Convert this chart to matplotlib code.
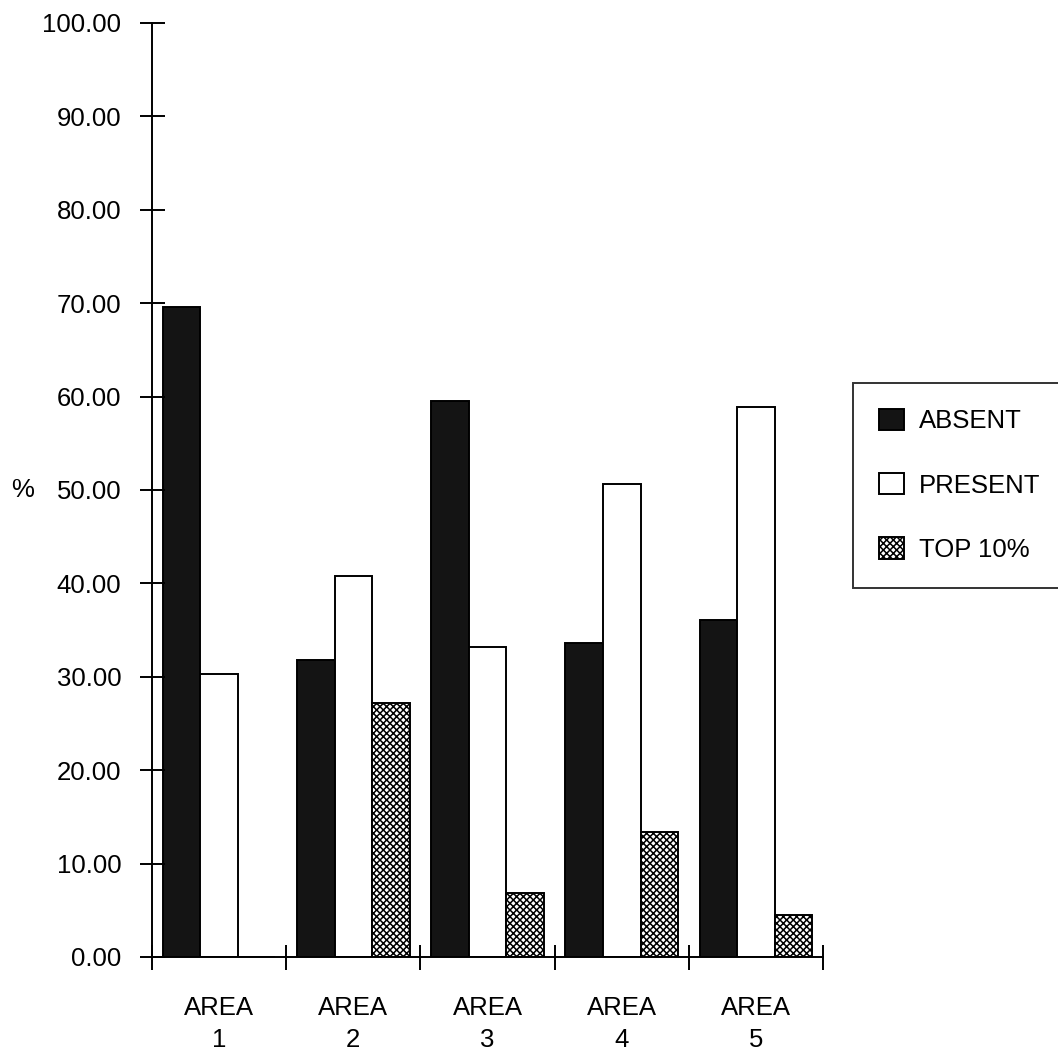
import numpy as np
import matplotlib.pyplot as plt

plt.rcParams['font.family'] = ['Liberation Sans', 'DejaVu Sans']
plt.rcParams['hatch.linewidth'] = 1.1

areas = ['AREA\n1', 'AREA\n2', 'AREA\n3', 'AREA\n4', 'AREA\n5']
absent = [69.6, 31.8, 59.5, 33.6, 36.1]
present = [30.3, 40.8, 33.2, 50.6, 58.9]
top10 = [0.0, 27.2, 6.9, 13.4, 4.5]
yticks = [0, 10, 20, 30, 40, 50, 60, 70, 80, 90, 100]

FS = 18.5
W = 0.28

fig = plt.figure(figsize=(10.58, 10.55), dpi=100)
ax = fig.add_axes([0.1437, 0.0929, 0.6342, 0.8853])

x = np.arange(len(areas)) + 0.5
ax.bar(x - W, absent, W, color='#141414', edgecolor='black', linewidth=1.4, label='ABSENT')
ax.bar(x, present, W, color='white', edgecolor='black', linewidth=1.4, label='PRESENT')
ax.bar(x + W, top10, W, color='white', edgecolor='black', hatch='xxxxx', linewidth=1.4, label='TOP 10%')

ax.set_xlim(0, len(areas))
ax.set_ylim(0, 100)
ax.set_yticks(yticks)
ax.set_yticklabels(['%.2f' % v for v in yticks], fontsize=FS)

# ticks sit on the group boundaries, labels in the middle of each group
ax.set_xticks(np.arange(len(areas) + 1))
ax.set_xticklabels([])
ax.set_xticks(x, minor=True)
ax.set_xticklabels(areas, minor=True, fontsize=FS, linespacing=1.45)
ax.tick_params(axis='x', which='minor', length=0, pad=28)
ax.tick_params(axis='both', which='major', direction='inout', length=18, width=1.4, pad=13)

for s in ['top', 'right']:
    ax.spines[s].set_visible(False)
for s in ['left', 'bottom']:
    ax.spines[s].set_linewidth(1.4)

ax.set_ylabel('%', fontsize=FS, rotation=0, va='center', ha='center')
ax.yaxis.set_label_coords(-0.193, 0.5)

leg = fig.legend(loc='upper left', bbox_to_anchor=(853 / 1058, 1 - 383 / 1055),
                 fontsize=FS, frameon=True, fancybox=False, edgecolor='black',
                 borderpad=1.0, labelspacing=1.55, handlelength=1.0, handleheight=0.9,
                 handletextpad=0.55, borderaxespad=0)
leg.get_frame().set_linewidth(1.4)

plt.savefig('out.png', dpi=100)
